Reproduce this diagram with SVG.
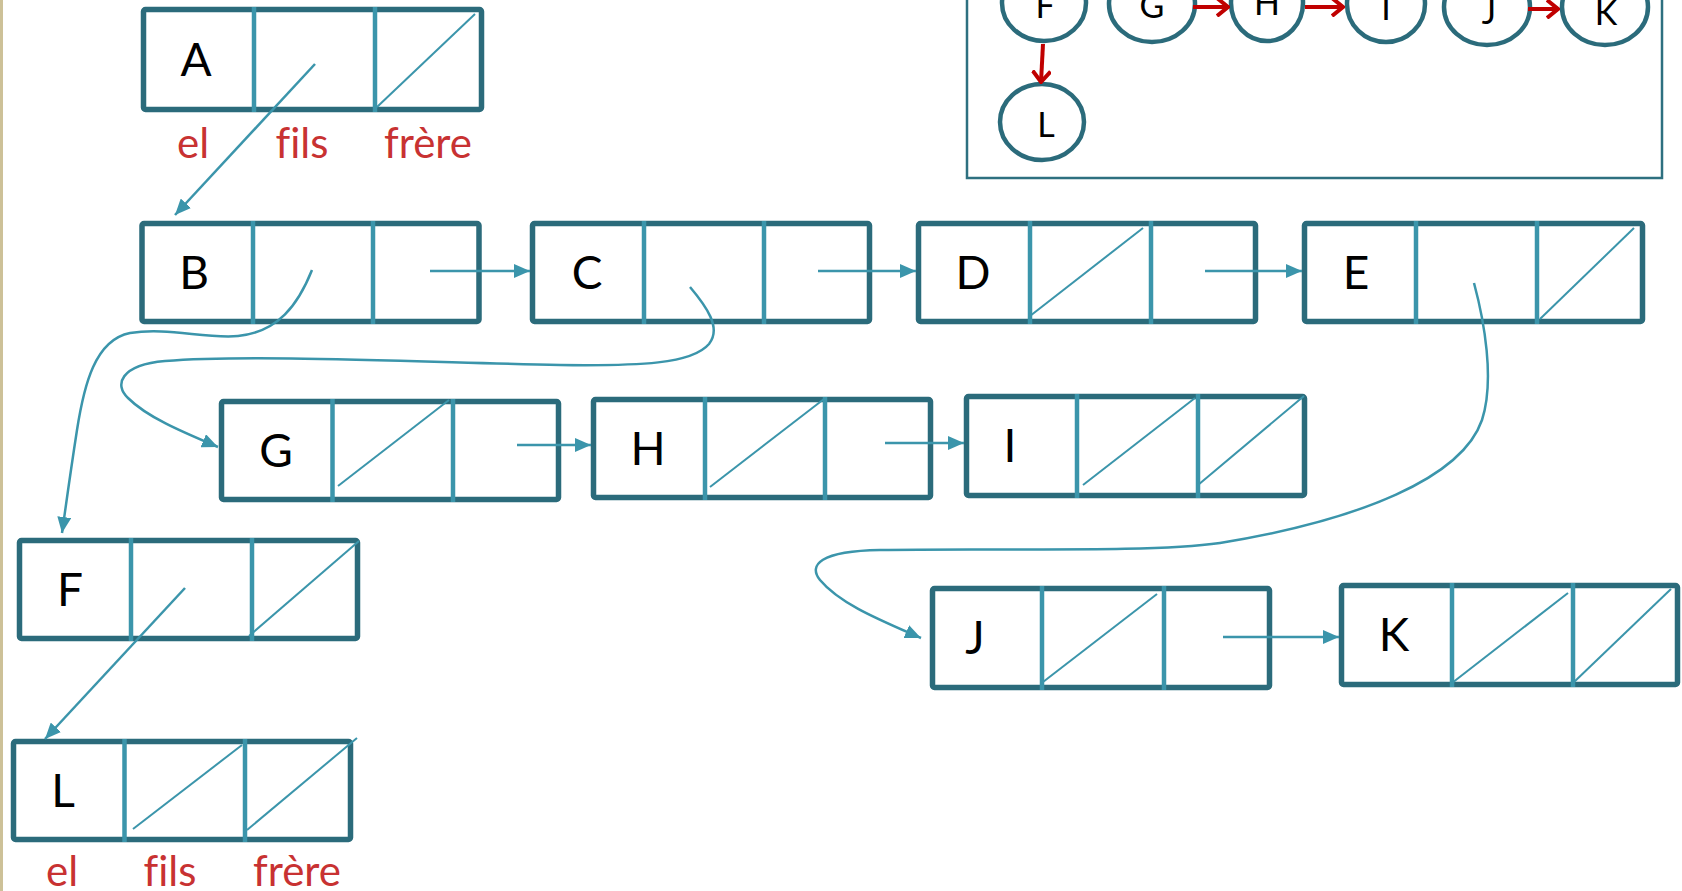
<svg xmlns="http://www.w3.org/2000/svg" width="1682" height="891" viewBox="0 0 1682 891">
<defs>
<style>
.box{fill:#fff;stroke:#2b6b7b;stroke-width:5.5;stroke-linejoin:round}
.dv{stroke:#3b95ab;stroke-width:4.5}
.dg{stroke:#3b95ab;stroke-width:2;fill:none}
.cn{stroke:#3b95ab;stroke-width:2.5;fill:none}
.el{font-family:"Lato","Open Sans",sans-serif;font-size:46px;fill:#000;text-anchor:middle}
.lb{font-family:"Lato","Open Sans",sans-serif;font-size:42px;fill:#c83232;text-anchor:middle;font-variant-ligatures:none;font-feature-settings:"liga" 0}
.cc{fill:#fff;stroke:#2b6b7b;stroke-width:4.5}
.ct{font-family:"Lato","Open Sans",sans-serif;font-size:34px;fill:#000;text-anchor:middle}
.ra{stroke:#c00000;stroke-width:4;fill:none}
</style>
<marker id="ah" viewBox="0 0 16 14" refX="16" refY="7" markerWidth="16" markerHeight="14" markerUnits="userSpaceOnUse" orient="auto"><path d="M0,0 L16,7 L0,14 Z" fill="#3b95ab"/></marker>
<marker id="rh" viewBox="0 0 14 20" refX="12" refY="10" markerWidth="14" markerHeight="20" markerUnits="userSpaceOnUse" orient="auto"><path d="M1,1 L12,10 L1,19" fill="none" stroke="#c00000" stroke-width="4"/></marker>
</defs>
<rect x="0" y="0" width="1682" height="891" fill="#fff"/>
<rect x="0" y="0" width="3" height="891" fill="#cdc198"/>

<g id="panel">
<rect x="967" y="-10" width="695" height="188" fill="none" stroke="#2e7080" stroke-width="2.5"/>
<ellipse class="cc" cx="1044" cy="3" rx="42" ry="38"/><text class="ct" x="1045" y="18">F</text>
<ellipse class="cc" cx="1152" cy="4" rx="43" ry="38"/><text class="ct" x="1152" y="18">G</text>
<ellipse class="cc" cx="1267" cy="3" rx="36" ry="38"/><text class="ct" x="1267" y="15">H</text>
<ellipse class="cc" cx="1386" cy="4" rx="39" ry="38"/><text class="ct" x="1386" y="20">I</text>
<ellipse class="cc" cx="1487" cy="7" rx="43" ry="38"/><text class="ct" x="1489" y="24">J</text>
<ellipse class="cc" cx="1605" cy="7" rx="43" ry="38"/><text class="ct" x="1606" y="25">K</text>
<ellipse class="cc" cx="1042" cy="122" rx="42" ry="38"/><text class="ct" x="1046" y="137">L</text>
<line class="ra" x1="1193" y1="7" x2="1228" y2="7" marker-end="url(#rh)"/>
<line class="ra" x1="1305" y1="7" x2="1343" y2="7" marker-end="url(#rh)"/>
<line class="ra" x1="1528" y1="9" x2="1558" y2="9" marker-end="url(#rh)"/>
<line class="ra" x1="1043" y1="44" x2="1041" y2="82" marker-end="url(#rh)"/>
</g>

<g id="nodeA">
<rect class="box" x="143.5" y="9.5" width="338" height="100" rx="2"/>
<line class="dv" x1="254" y1="7" x2="254" y2="112"/><line class="dv" x1="375" y1="7" x2="375" y2="112"/>
<line class="dg" x1="377" y1="107" x2="475" y2="14"/>
<text class="el" x="196" y="76">A</text>
<text class="lb" x="193" y="158">el</text><text class="lb" x="302" y="158">fils</text><text class="lb" x="428" y="158">frère</text>
</g>

<g id="nodeB">
<rect class="box" x="142" y="223.5" width="337" height="98" rx="2"/>
<line class="dv" x1="253" y1="221" x2="253" y2="324"/><line class="dv" x1="373" y1="221" x2="373" y2="324"/>
<text class="el" x="194" y="289">B</text>
</g>

<g id="nodeC">
<rect class="box" x="532.5" y="223.5" width="337" height="98" rx="2"/>
<line class="dv" x1="644" y1="221" x2="644" y2="324"/><line class="dv" x1="764" y1="221" x2="764" y2="324"/>
<text class="el" x="587" y="289">C</text>
</g>

<g id="nodeD">
<rect class="box" x="918.5" y="223.5" width="337" height="98" rx="2"/>
<line class="dv" x1="1030" y1="221" x2="1030" y2="324"/><line class="dv" x1="1151" y1="221" x2="1151" y2="324"/>
<line class="dg" x1="1030" y1="316" x2="1143" y2="228"/>
<text class="el" x="973" y="289">D</text>
</g>

<g id="nodeE">
<rect class="box" x="1304.5" y="223.5" width="338" height="98" rx="2"/>
<line class="dv" x1="1416" y1="221" x2="1416" y2="324"/><line class="dv" x1="1537" y1="221" x2="1537" y2="324"/>
<line class="dg" x1="1540" y1="319" x2="1634" y2="228"/>
<text class="el" x="1356" y="289">E</text>
</g>

<g id="nodeG">
<rect class="box" x="221.5" y="401.5" width="337" height="98" rx="2"/>
<line class="dv" x1="332.5" y1="399" x2="332.5" y2="502"/><line class="dv" x1="453" y1="399" x2="453" y2="502"/>
<line class="dg" x1="338" y1="486" x2="449" y2="400"/>
<text class="el" x="276" y="467">G</text>
</g>

<g id="nodeH">
<rect class="box" x="593.5" y="399.5" width="337" height="98" rx="2"/>
<line class="dv" x1="705" y1="397" x2="705" y2="500"/><line class="dv" x1="825" y1="397" x2="825" y2="500"/>
<line class="dg" x1="710" y1="487" x2="824" y2="399"/>
<text class="el" x="648" y="465">H</text>
</g>

<g id="nodeI">
<rect class="box" x="966.5" y="396.5" width="338" height="99" rx="2"/>
<line class="dv" x1="1077" y1="394" x2="1077" y2="498"/><line class="dv" x1="1198" y1="394" x2="1198" y2="498"/>
<line class="dg" x1="1083" y1="485" x2="1195" y2="398"/>
<line class="dg" x1="1198" y1="485" x2="1304" y2="396"/>
<text class="el" x="1010" y="462">I</text>
</g>

<g id="nodeF">
<rect class="box" x="19.5" y="540.5" width="338" height="98" rx="2"/>
<line class="dv" x1="131" y1="538" x2="131" y2="641"/><line class="dv" x1="252" y1="538" x2="252" y2="641"/>
<line class="dg" x1="249" y1="636" x2="359" y2="541"/>
<text class="el" x="70" y="606">F</text>
</g>

<g id="nodeL">
<rect class="box" x="13.5" y="741.5" width="337" height="98" rx="2"/>
<line class="dv" x1="124.5" y1="739" x2="124.5" y2="842"/><line class="dv" x1="245" y1="739" x2="245" y2="842"/>
<line class="dg" x1="133" y1="829" x2="242" y2="745"/>
<line class="dg" x1="247" y1="830" x2="357" y2="738"/>
<text class="el" x="63" y="807">L</text>
<text class="lb" x="62" y="886">el</text><text class="lb" x="170" y="886">fils</text><text class="lb" x="297" y="886">frère</text>
</g>

<g id="nodeJ">
<rect class="box" x="932.5" y="588.5" width="337" height="99" rx="2"/>
<line class="dv" x1="1042" y1="586" x2="1042" y2="690"/><line class="dv" x1="1164" y1="586" x2="1164" y2="690"/>
<line class="dg" x1="1043" y1="682" x2="1157" y2="594"/>
<text class="el" x="975" y="654">J</text>
</g>

<g id="nodeK">
<rect class="box" x="1341.5" y="585.5" width="336" height="99" rx="2"/>
<line class="dv" x1="1452" y1="583" x2="1452" y2="687"/><line class="dv" x1="1573" y1="583" x2="1573" y2="687"/>
<line class="dg" x1="1452" y1="683" x2="1568" y2="593"/>
<line class="dg" x1="1573" y1="683" x2="1671" y2="589"/>
<text class="el" x="1394" y="651">K</text>
</g>

<g id="connectors">
<line class="cn" x1="315" y1="64" x2="175" y2="215" marker-end="url(#ah)"/>
<line class="cn" x1="430" y1="271" x2="530" y2="271" marker-end="url(#ah)"/>
<line class="cn" x1="818" y1="271" x2="916" y2="271" marker-end="url(#ah)"/>
<line class="cn" x1="1205" y1="271" x2="1302" y2="271" marker-end="url(#ah)"/>
<line class="cn" x1="517" y1="445" x2="591" y2="445" marker-end="url(#ah)"/>
<line class="cn" x1="885" y1="443" x2="964" y2="443" marker-end="url(#ah)"/>
<line class="cn" x1="1223" y1="637" x2="1339" y2="637" marker-end="url(#ah)"/>
<line class="cn" x1="185" y1="588" x2="45" y2="739" marker-end="url(#ah)"/>
<path class="cn" d="M312,270 C298,305 278,332 238,336 C205,339 168,327 130,333 C95,340 84,385 77,430 C70,475 66,505 62,533" marker-end="url(#ah)"/>
<path class="cn" d="M690,287 C706,306 722,328 709,344 C692,364 640,366 560,365 C420,362 250,354 165,361 C120,365 114,385 128,398 C148,418 185,433 218,447" marker-end="url(#ah)"/>
<path class="cn" d="M1474,283 C1484,320 1495,380 1482,420 C1462,478 1360,520 1220,543 C1150,553 1000,548 880,550 C820,551 808,565 820,580 C840,604 880,620 921,638" marker-end="url(#ah)"/>
</g>
</svg>
